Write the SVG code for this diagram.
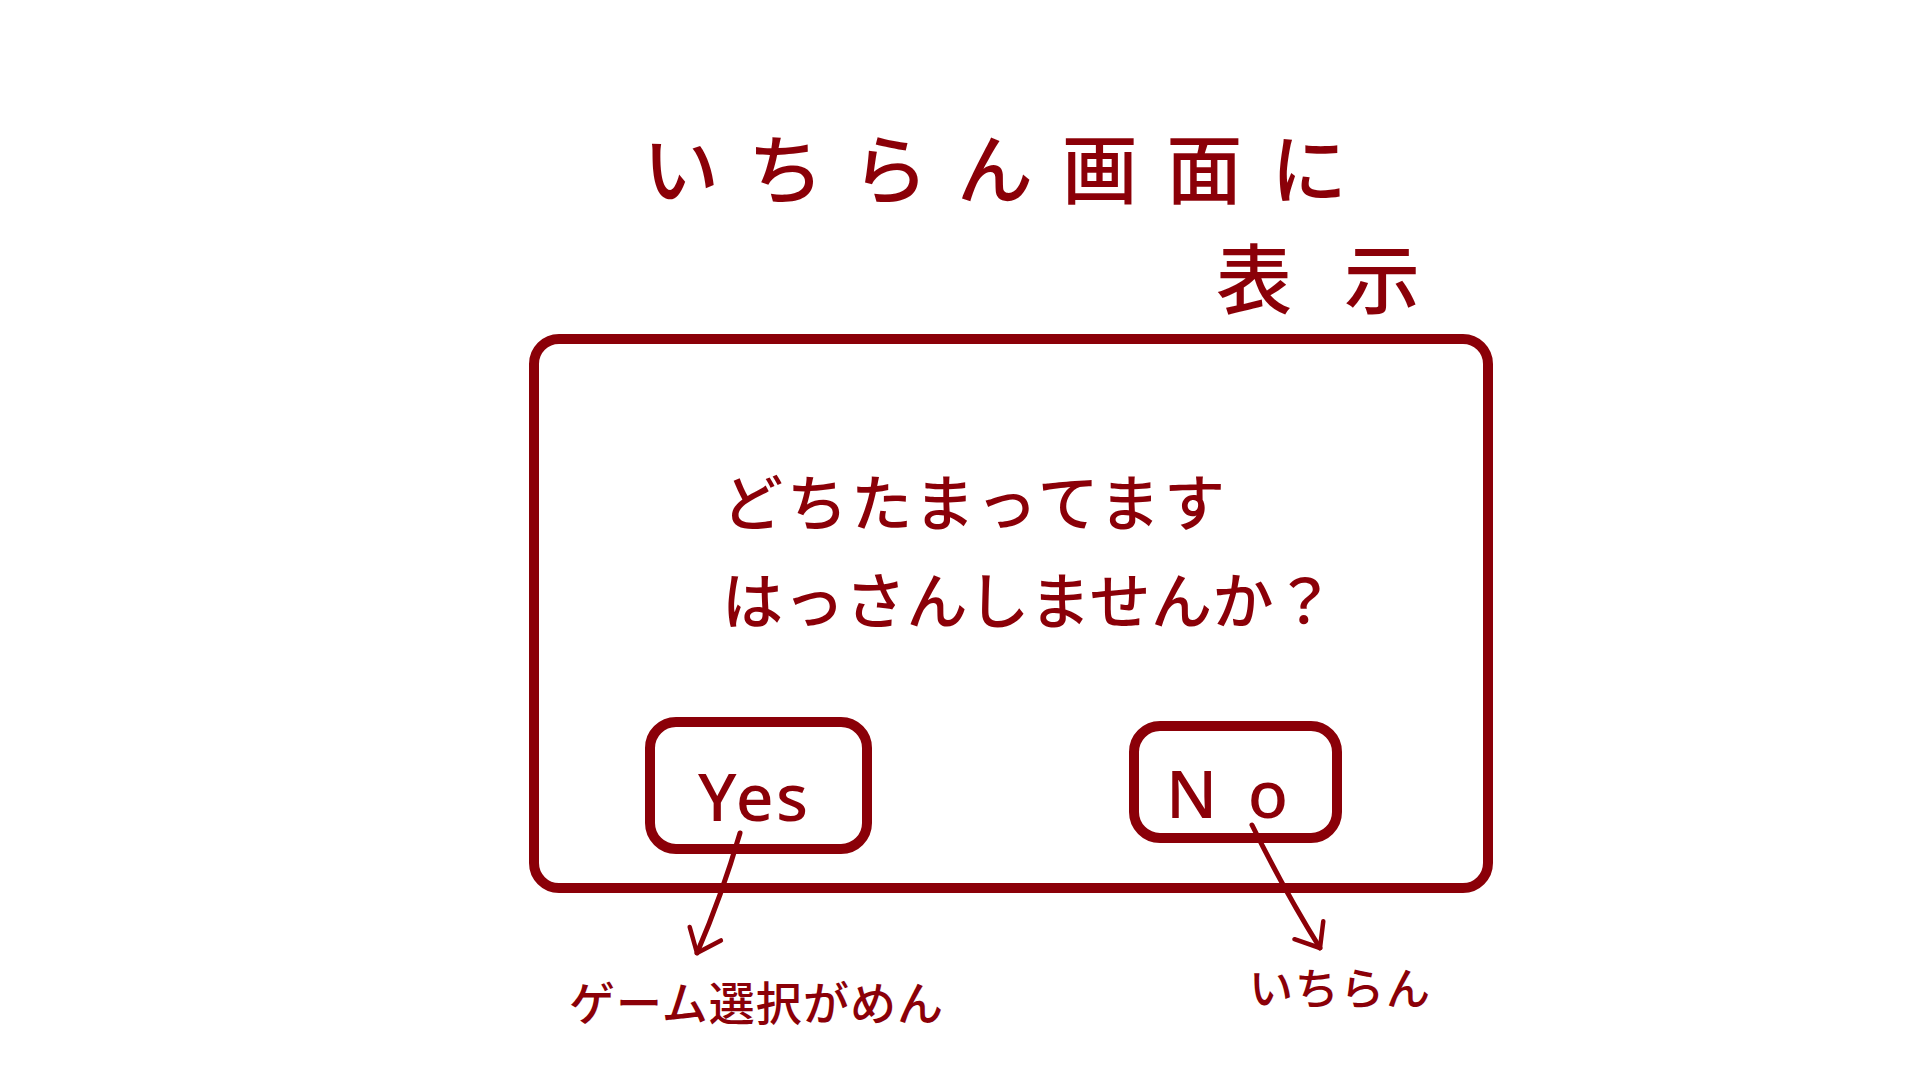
<svg xmlns="http://www.w3.org/2000/svg" width="1920" height="1080" viewBox="0 0 1920 1080">
  <style>
    .ink { fill: #8B0008; font-family: "Noto Sans CJK JP", "Noto Sans", sans-serif; font-weight: 500; }
    .latin { fill: #8B0008; font-family: "Noto Sans", "Liberation Sans", sans-serif; font-weight: 500; }
    .frame { fill: none; stroke: #8B0008; stroke-width: 10; }
    .btn { fill: none; stroke: #8B0008; stroke-width: 10; }
    .conn { fill: none; stroke: #8B0008; stroke-width: 5; stroke-linecap: round; }
  </style>
  <defs>
    <marker id="arrow" markerUnits="userSpaceOnUse" markerWidth="40" markerHeight="40" viewBox="-30 -20 34 40" refX="0" refY="0" orient="auto">
      <path d="M -21,-17 L 0,0 L -21,17" fill="none" stroke="#8B0008" stroke-width="4.5" stroke-linecap="round" stroke-linejoin="round"/>
    </marker>
  </defs>
  <rect width="1920" height="1080" fill="#ffffff"/>

  <g id="title">
    <text class="ink" x="643" y="198" font-size="76" textLength="704" lengthAdjust="spacing">いちらん画面に</text>
    <text class="ink" x="1216" y="308" font-size="76" textLength="204" lengthAdjust="spacing">表示</text>
  </g>

  <g id="screen">
    <rect class="frame" x="534" y="339" width="954" height="549" rx="25"/>
    <text class="ink" x="722" y="526" font-size="61" textLength="503" lengthAdjust="spacing">どちたまってます</text>
    <text class="ink" x="722" y="624" font-size="61" textLength="613" lengthAdjust="spacing">はっさんしませんか？</text>
  </g>

  <g id="btn-yes">
    <rect class="btn" x="650" y="722" width="217" height="127" rx="26"/>
    <text class="latin" x="698" y="821" font-size="66" textLength="110" lengthAdjust="spacing">Yes</text>
  </g>

  <g id="btn-no">
    <rect class="btn" x="1134" y="726" width="203" height="112" rx="26"/>
    <text class="latin" x="1166" y="818" font-size="66" textLength="122" lengthAdjust="spacing">No</text>
  </g>

  <g id="label-game-select">
    <text class="ink" x="569" y="1020" font-size="46" textLength="374" lengthAdjust="spacing">ゲーム選択がめん</text>
  </g>

  <g id="label-list">
    <text class="ink" x="1249" y="1005" font-size="44" textLength="181" lengthAdjust="spacing">いちらん</text>
  </g>

  <g id="connectors">
    <path class="conn" d="M 740,833 Q 722,895 697,953" marker-end="url(#arrow)"/>
    <path class="conn" d="M 1252,825 Q 1285,892 1320,948" marker-end="url(#arrow)"/>
  </g>
</svg>
